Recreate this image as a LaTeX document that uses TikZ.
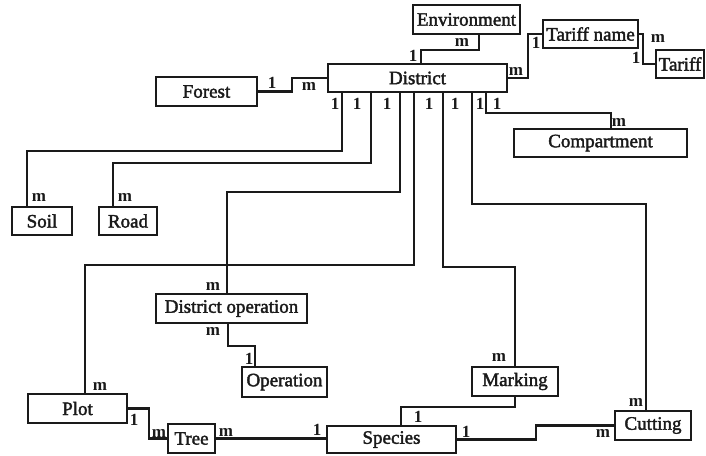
\documentclass[tikz,border=0pt]{standalone}
\usepackage{fontspec}
\setmainfont{Liberation Serif}
\newfontfamily\heavyserif{Liberation Serif}[FakeBold=2]
\usetikzlibrary{calc}
\definecolor{ink}{HTML}{1A1A1A}
\tikzset{
  entity/.style={draw=ink, line width=2.9pt, inner sep=0pt, text=ink, font=\heavyserif\fontsize{19}{22}\selectfont},
  link/.style={draw=ink, line width=2.5pt},
  card/.style={inner sep=0pt, text=ink, font=\fontsize{17}{20}\selectfont\bfseries},
}

\begin{document}
\begin{tikzpicture}[x=1pt, y=-1pt]
\useasboundingbox (0,0) rectangle (706,455);

% ── entities ─────────────────────────────────────────────────────────────────
\node[entity, minimum width=107pt, minimum height=29pt] (environment) at (466.5,19.5) {Environment};
\node[entity, minimum width=179pt, minimum height=28pt] (district) at (417.5,78) {District};
\node[entity, minimum width=95pt, minimum height=28pt] (tariffname) at (590.5,34) {Tariff name};
\node[entity, minimum width=48pt, minimum height=28pt] (tariff) at (680,64) {Tariff};
\node[entity, minimum width=101pt, minimum height=29pt] (forest) at (206.5,91.5) {Forest};
\node[entity, minimum width=173pt, minimum height=28pt] (compartment) at (600.5,143) {Compartment};
\node[entity, minimum width=60pt, minimum height=28pt] (soil) at (42,221) {Soil};
\node[entity, minimum width=58pt, minimum height=28pt] (road) at (128,221) {Road};
\node[entity, minimum width=151pt, minimum height=29pt] (distop) at (231.5,308.5) {District operation};
\node[entity, minimum width=85pt, minimum height=30pt] (operation) at (284.5,382) {Operation};
\node[entity, minimum width=86pt, minimum height=29pt] (marking) at (515,381.5) {Marking};
\node[entity, minimum width=99pt, minimum height=29pt] (plot) at (77.5,408.5) {Plot};
\node[entity, minimum width=47pt, minimum height=29pt] (tree) at (191.5,438.5) {Tree};
\node[entity, minimum width=129pt, minimum height=27pt] (species) at (391.5,439.5) {Species};
\node[entity, minimum width=76pt, minimum height=29pt] (cutting) at (653,425.5) {Cutting};

% ── bends of the links ───────────────────────────────────────────────────────
\coordinate (envA) at (479,50);  \coordinate (envB) at (421,50);
\coordinate (tnA) at (528,50);
\coordinate (tfA) at (643,50);
\coordinate (fdA) at (292,85);
\coordinate (kA) at (486,113);   \coordinate (kB) at (611,113);
\coordinate (sA) at (342,151);   \coordinate (sB) at (27,151);
\coordinate (rA) at (371,163);   \coordinate (rB) at (113,163);
\coordinate (oA) at (400,192);   \coordinate (oB) at (227,192);
\coordinate (cA) at (472,204);   \coordinate (cB) at (646,204);
\coordinate (pA) at (414,265);   \coordinate (pB) at (85,265);
\coordinate (mA) at (443,267);   \coordinate (mB) at (515,267);
\coordinate (dA) at (228,346);   \coordinate (dB) at (255,346);
\coordinate (msA) at (515,407);  \coordinate (msB) at (401,407);
\coordinate (ptA) at (149,425);
\coordinate (scA) at (536,432);

% ── links ────────────────────────────────────────────────────────────────────
\draw[link] (environment.south -| envA) -- (envA) -- (envB) -- (district.north -| envB);
\draw[link] (district.east) -| (tnA) |- (tariffname.west);
\draw[link] (tariffname.east) -| (tfA) |- (tariff.west);
\draw[link] (forest.east) -| (fdA) |- (district.west);
% everything hanging under District
\foreach \a/\b/\n in {kA/kB/compartment, sA/sB/soil, rA/rB/road, oA/oB/distop,
                      cA/cB/cutting, pA/pB/plot, mA/mB/marking}
  \draw[link] (district.south -| \a) -- (\a) -- (\b) -- (\n.north -| \b);
\draw[link] (distop.south -| dA) -- (dA) -- (dB) -- (operation.north -| dB);
\draw[link] (plot.east) -| (ptA) |- (tree.west);
\draw[link] (tree.east) -- (tree.east -| species.west);
\draw[link] (marking.south -| msA) -- (msA) -- (msB) -- (species.north -| msB);
\draw[link] (species.east) -| (scA) |- (cutting.west);

% ── cardinalities ────────────────────────────────────────────────────────────
\node[card] (envM) at (462,42) {m};
\node[card] (envOne) at (413,56) {1};
\node[card] (tnM) at (516,71) {m};
\node[card] (tnOne) at (536,43) {1};
\node[card] (tfM) at (658,38) {m};
\node[card] (tfOne) at (636,58) {1};
\node[card] (fdOne) at (272,83) {1};
\node[card] (fdM) at (309,86) {m};
\foreach \x [count=\i] in {335,357,387,429,455,480,497}
  \node[card] (dOne\i) at (\x,104) {1};
\node[card] (kM) at (619,122) {m};
\node[card] (sM) at (39,197) {m};
\node[card] (rM) at (125,197) {m};
\node[card] (oM) at (213,286) {m};
\node[card] (dM) at (213,331) {m};
\node[card] (dOne) at (249,359) {1};
\node[card] (pM) at (100,386) {m};
\node[card] (mM) at (499,357) {m};
\node[card] (cM) at (636,402) {m};
\node[card] (ptOne) at (134,420) {1};
\node[card] (ptM) at (159,433) {m};
\node[card] (tsM) at (226,432) {m};
\node[card] (tsOne) at (317,430) {1};
\node[card] (msOne) at (418,417) {1};
\node[card] (scOne) at (466,432) {1};
\node[card] (scM) at (603,433) {m};

\end{tikzpicture}
\end{document}
